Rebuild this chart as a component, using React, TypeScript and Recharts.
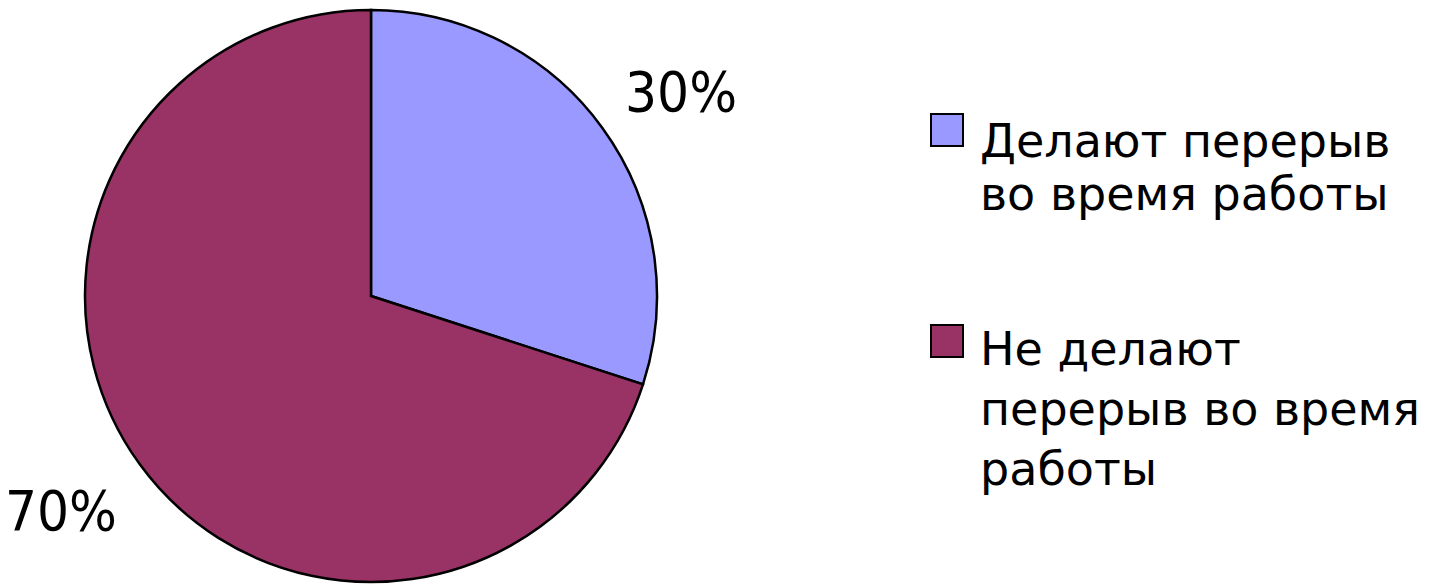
import { PieChart, Pie, Cell } from 'recharts'

const categories = ['Делают перерыв во время работы', 'Не делают перерыв во время работы']
const shares = [30, 70]
const sliceColors = ['#9999FF', '#993366']
// legend text broken the way the picture shows it
const legendLines = [
  ['Делают перерыв', 'во время работы'],
  ['Не делают', 'перерыв во время', 'работы'],
]

const data = categories.map((name, i) => ({ name, value: shares[i] }))

const RADIAN = Math.PI / 180

function renderLabel(props: any) {
  const { cx, cy, midAngle, outerRadius, value } = props
  const r = outerRadius + 88
  // labels sit a touch clockwise of the slice middle
  const a = (midAngle - 2) * RADIAN
  const x = cx + r * Math.cos(-a)
  const y = cy + r * Math.sin(-a)
  return (
    <text
      x={x}
      y={y}
      dy={5}
      textAnchor="middle"
      dominantBaseline="central"
      fill="#000"
      fontFamily="'Liberation Sans Narrow', 'DejaVu Sans Condensed', sans-serif"
      fontSize={56}
    >
      {value}%
    </text>
  )
}

// per-item placement of the legend block
const legendLayout = [
  { squareTop: 113, textTop: 115, lineHeight: 53 },
  { squareTop: 324, textTop: 319, lineHeight: 60 },
]

function ChartLegend() {
  return (
    <div style={{ fontFamily: "'DejaVu Sans', sans-serif", fontSize: 46, color: '#000' }}>
      {categories.map((name, i) => (
        <div key={name}>
          <div
            style={{
              position: 'absolute',
              left: 930,
              top: legendLayout[i].squareTop,
              width: 30,
              height: 30,
              background: sliceColors[i],
              border: '2px solid #000',
            }}
          />
          <div
            style={{
              position: 'absolute',
              left: 980,
              top: legendLayout[i].textTop,
              lineHeight: legendLayout[i].lineHeight + 'px',
            }}
          >
            {legendLines[i].map((line, j) => (
              <div key={j} style={{ whiteSpace: 'nowrap' }}>{line}</div>
            ))}
          </div>
        </div>
      ))}
    </div>
  )
}

export default function App() {
  return (
    <div style={{ position: 'absolute', left: 0, top: 0, width: 1445, height: 584, background: '#fff' }}>
      <PieChart width={1445} height={584} margin={{ top: 0, right: 0, bottom: 0, left: 0 }}>
        <Pie
          data={data}
          dataKey="value"
          nameKey="name"
          cx={371}
          cy={296}
          outerRadius={286}
          startAngle={90}
          endAngle={-270}
          label={renderLabel}
          labelLine={false}
          isAnimationActive={false}
        >
          {data.map((d, i) => (
            <Cell key={d.name} fill={sliceColors[i]} stroke="#000" strokeWidth={2.5} />
          ))}
        </Pie>
      </PieChart>
      <ChartLegend />
    </div>
  )
}
